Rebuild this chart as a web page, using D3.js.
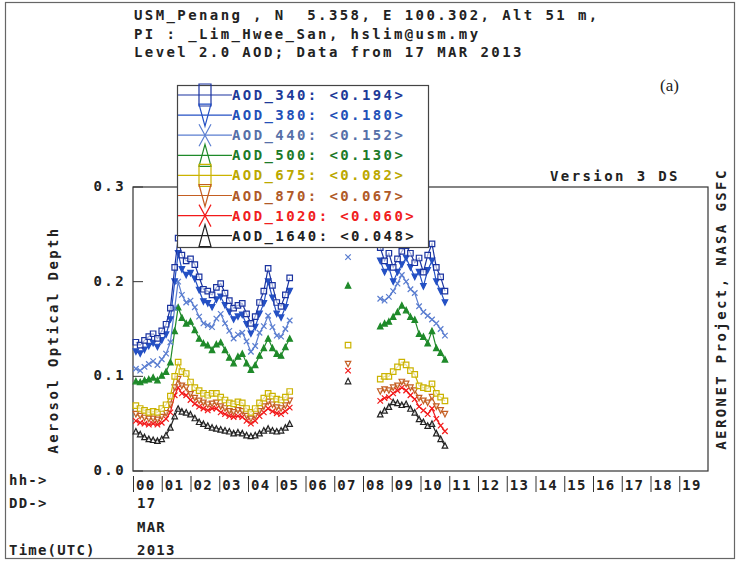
<!DOCTYPE html>
<html>
<head>
<meta charset="utf-8">
<script src="https://cdn.jsdelivr.net/npm/d3@7"></script>
<style>
  body { margin: 0; background: #fff; }
  svg { display: block; }
  text { font-family: 'DejaVu Sans Mono', monospace; font-weight: bold; font-size: 14px; letter-spacing: 2.4px; fill: #222; }
</style>
</head>
<body>
<div class="svg-container"></div>
<script>
// time of each measurement, hours UTC on 17 MAR 2013
const hours = [
  0.10, 0.25, 0.40, 0.55, 0.70, 0.85, 1.00, 1.15, 1.30, 1.45, 1.57, 1.70, 1.85, 2.00, 2.15, 2.30, 2.45, 2.60, 2.75,
  2.90, 3.05, 3.20, 3.35, 3.50, 3.65, 3.80, 3.95, 4.10, 4.25, 4.40, 4.55, 4.70, 4.85, 5.00, 5.15, 5.30, 5.45,
  7.48,
  8.60, 8.75, 8.90, 9.05, 9.20, 9.35, 9.50, 9.65, 9.80, 9.95, 10.10, 10.25, 10.40, 10.55, 10.70, 10.85
];

const aod340 = [
  0.136, 0.133, 0.138, 0.142, 0.145, 0.140, 0.148, 0.155, 0.172, 0.215, 0.246, 0.228, 0.222, 0.224, 0.218, 0.205, 0.192, 0.190, 0.186,
  0.194, 0.198, 0.188, 0.180, 0.172, 0.175, 0.177, 0.166, 0.156, 0.163, 0.178, 0.190, 0.214, 0.196, 0.178, 0.174, 0.186, 0.204,
  0.262,
  0.236, 0.222, 0.230, 0.215, 0.224, 0.232, 0.238, 0.230, 0.220, 0.225, 0.210, 0.228, 0.240, 0.215, 0.205, 0.190
];
const aod380 = [
  0.126, 0.124, 0.128, 0.132, 0.135, 0.131, 0.138, 0.144, 0.160, 0.200, 0.230, 0.213, 0.207, 0.209, 0.203, 0.191, 0.179, 0.177, 0.173,
  0.181, 0.184, 0.175, 0.168, 0.160, 0.163, 0.165, 0.155, 0.145, 0.152, 0.166, 0.177, 0.200, 0.183, 0.166, 0.162, 0.173, 0.190,
  0.250,
  0.222, 0.210, 0.215, 0.200, 0.210, 0.218, 0.225, 0.215, 0.205, 0.210, 0.195, 0.212, 0.222, 0.200, 0.190, 0.178
];
const aod440 = [
  0.108, 0.106, 0.110, 0.113, 0.116, 0.112, 0.118, 0.124, 0.136, 0.172, 0.200, 0.186, 0.178, 0.180, 0.173, 0.163, 0.156, 0.154, 0.152,
  0.161, 0.166, 0.156, 0.148, 0.140, 0.144, 0.146, 0.137, 0.126, 0.132, 0.146, 0.153, 0.164, 0.152, 0.143, 0.142, 0.150, 0.159,
  0.226,
  0.182, 0.180, 0.184, 0.190, 0.198, 0.207, 0.200, 0.192, 0.188, 0.174, 0.168, 0.164, 0.160, 0.156, 0.150, 0.143
];
const aod500 = [
  0.095, 0.094, 0.096, 0.097, 0.099, 0.096, 0.101, 0.105, 0.115, 0.148, 0.173, 0.162, 0.156, 0.158, 0.149, 0.140, 0.135, 0.133, 0.128,
  0.134, 0.136, 0.128, 0.120, 0.114, 0.121, 0.124, 0.114, 0.107, 0.112, 0.122, 0.130, 0.140, 0.130, 0.124, 0.122, 0.131, 0.140,
  0.196,
  0.153, 0.156, 0.158, 0.163, 0.168, 0.175, 0.170, 0.163, 0.160, 0.145, 0.142, 0.135, 0.148, 0.130, 0.125, 0.118
];
const aod675 = [
  0.069, 0.066, 0.064, 0.062, 0.063, 0.062, 0.066, 0.070, 0.079, 0.100, 0.115, 0.105, 0.103, 0.094, 0.088, 0.085, 0.082, 0.080, 0.082,
  0.082, 0.078, 0.075, 0.072, 0.071, 0.073, 0.072, 0.066, 0.062, 0.066, 0.072, 0.077, 0.082, 0.079, 0.076, 0.075, 0.078, 0.084,
  0.133,
  0.097, 0.100, 0.100, 0.105, 0.110, 0.115, 0.112, 0.106, 0.102, 0.090, 0.088, 0.087, 0.092, 0.082, 0.078, 0.074
];
const aod870 = [
  0.060, 0.058, 0.056, 0.055, 0.055, 0.054, 0.057, 0.061, 0.070, 0.088, 0.097, 0.090, 0.088, 0.081, 0.077, 0.074, 0.072, 0.070, 0.071,
  0.072, 0.068, 0.066, 0.063, 0.062, 0.064, 0.063, 0.058, 0.055, 0.058, 0.063, 0.068, 0.073, 0.070, 0.067, 0.066, 0.069, 0.074,
  0.113,
  0.084, 0.086, 0.085, 0.088, 0.090, 0.094, 0.092, 0.088, 0.085, 0.077, 0.074, 0.072, 0.078, 0.068, 0.064, 0.060
];
const aod1020 = [
  0.053, 0.051, 0.050, 0.049, 0.050, 0.049, 0.051, 0.055, 0.062, 0.080, 0.088, 0.082, 0.080, 0.075, 0.071, 0.068, 0.066, 0.064, 0.066,
  0.066, 0.062, 0.060, 0.058, 0.057, 0.058, 0.057, 0.053, 0.050, 0.053, 0.058, 0.062, 0.066, 0.063, 0.061, 0.060, 0.063, 0.067,
  0.106,
  0.074, 0.077, 0.078, 0.082, 0.085, 0.088, 0.085, 0.080, 0.076, 0.068, 0.064, 0.060, 0.066, 0.055, 0.048, 0.042
];
const aod1640 = [
  0.042, 0.039, 0.036, 0.034, 0.033, 0.032, 0.034, 0.038, 0.046, 0.058, 0.066, 0.063, 0.062, 0.060, 0.056, 0.052, 0.050, 0.048, 0.046,
  0.045, 0.044, 0.043, 0.042, 0.040, 0.041, 0.040, 0.038, 0.037, 0.038, 0.040, 0.043, 0.045, 0.043, 0.042, 0.043, 0.046, 0.050,
  0.095,
  0.060, 0.064, 0.068, 0.073, 0.072, 0.070, 0.071, 0.066, 0.062, 0.055, 0.052, 0.048, 0.050, 0.040, 0.034, 0.027
];

const seriesNames = ['AOD_340', 'AOD_380', 'AOD_440', 'AOD_500', 'AOD_675', 'AOD_870', 'AOD_1020', 'AOD_1640'];
const seriesMeans = ['0.194', '0.180', '0.152', '0.130', '0.082', '0.067', '0.060', '0.048'];
const hourLabels = ['00', '01', '02', '03', '04', '05', '06', '07', '08', '09',
                    '10', '11', '12', '13', '14', '15', '16', '17', '18', '19'];
const yTickValues = [0.0, 0.1, 0.2, 0.3];
const headerLines = [
  'USM_Penang , N  5.358, E 100.302, Alt 51 m,',
  'PI : _Lim_Hwee_San, hslim@usm.my',
  'Level 2.0 AOD; Data from 17 MAR 2013'
];

const allValues = [aod340, aod380, aod440, aod500, aod675, aod870, aod1020, aod1640];

// styling per series: colour, marker shape, filled or not
const styles = [
  { color: '#1a33a0', text: '#1d3a98', shape: 'square', fill: false },
  { color: '#2450c4', text: '#2350b8', shape: 'down', fill: true },
  { color: '#5b7ed0', text: '#5670a8', shape: 'cross', fill: false },
  { color: '#1f8a2a', text: '#1d7a28', shape: 'up', fill: true },
  { color: '#cbb300', text: '#bba800', shape: 'square', fill: false },
  { color: '#c45e22', text: '#b05a28', shape: 'down', fill: false },
  { color: '#f21a1a', text: '#f02020', shape: 'cross', fill: false },
  { color: '#222222', text: '#222222', shape: 'up', fill: false }
];

const width = 738;
const height = 561;
const plot = { left: 133, right: 708, top: 187, bottom: 471 };

const svg = d3.select('.svg-container')
  .append('svg')
  .attr('width', width)
  .attr('height', height);

svg.append('rect')
  .attr('width', width)
  .attr('height', height)
  .style('fill', '#fff');

// outer frame of the figure
svg.append('rect')
  .attr('x', 5.5)
  .attr('y', 2.5)
  .attr('width', 729)
  .attr('height', 556)
  .style('fill', 'none')
  .style('stroke', '#666')
  .style('stroke-width', 1.2);

const x = d3.scaleLinear().domain([0, 20]).range([plot.left, plot.right]);
const y = d3.scaleLinear().domain([0, 0.3]).range([plot.bottom, plot.top]);

// marker path generator, (w, h) is the box size
function markerPath(shape, w, h) {
  const a = w / 2, b = h / 2;
  if (shape === 'square') return `M${-a},${-b}H${a}V${b}H${-a}Z`;
  if (shape === 'up') return `M0,${-b}L${a},${b}L${-a},${b}Z`;
  if (shape === 'down') return `M0,${b}L${a},${-b}L${-a},${-b}Z`;
  return `M${-a},${-b}L${a},${b}M${-a},${b}L${a},${-b}`;
}

// header text
svg.selectAll('.header')
  .data(headerLines)
  .enter()
  .append('text')
  .attr('class', 'header')
  .attr('x', 134)
  .attr('y', (d, i) => 20 + i * 18.7)
  .style('white-space', 'pre')
  .text(d => d);

svg.append('text')
  .attr('x', 660)
  .attr('y', 91)
  .style('font-family', "'Liberation Serif', serif")
  .style('font-weight', 'normal')
  .style('font-size', '17px')
  .style('letter-spacing', '0px')
  .text('(a)');

svg.append('text')
  .attr('x', 550)
  .attr('y', 181)
  .text('Version 3 DS');

// plot frame
svg.append('rect')
  .attr('x', plot.left)
  .attr('y', plot.top)
  .attr('width', plot.right - plot.left)
  .attr('height', plot.bottom - plot.top)
  .style('fill', 'none')
  .style('stroke', '#333')
  .style('stroke-width', 1.2);

// y ticks (inward) and labels
svg.selectAll('.ytick')
  .data(yTickValues)
  .enter()
  .append('line')
  .attr('x1', plot.left)
  .attr('x2', plot.left + 10)
  .attr('y1', d => y(d))
  .attr('y2', d => y(d))
  .style('stroke', '#333');

svg.selectAll('.ylabel')
  .data(yTickValues)
  .enter()
  .append('text')
  .attr('x', 126)
  .attr('y', d => y(d) + 4)
  .attr('text-anchor', 'end')
  .text(d => d3.format('.1f')(d));

// hour ticks and labels
svg.selectAll('.xtick')
  .data(hourLabels)
  .enter()
  .append('line')
  .attr('x1', (d, i) => x(i) + 0.5)
  .attr('x2', (d, i) => x(i) + 0.5)
  .attr('y1', 476)
  .attr('y2', 492)
  .style('stroke', '#333');

svg.selectAll('.xlabel')
  .data(hourLabels)
  .enter()
  .append('text')
  .attr('x', (d, i) => x(i) + 3)
  .attr('y', 490)
  .style('letter-spacing', '1.2px')
  .text(d => d);

// left-hand axis row labels
const bottomLabels = [
  { t: 'hh->', x: 9, y: 485 },
  { t: 'DD->', x: 9, y: 508 },
  { t: '17', x: 137, y: 508 },
  { t: 'MAR', x: 137, y: 532 },
  { t: 'Time(UTC)', x: 9, y: 555 },
  { t: '2013', x: 137, y: 555 }
];
svg.selectAll('.blabel')
  .data(bottomLabels)
  .enter()
  .append('text')
  .attr('x', d => d.x)
  .attr('y', d => d.y)
  .style('letter-spacing', '1.2px')
  .text(d => d.t);

svg.append('text')
  .attr('transform', 'translate(58,340) rotate(-90)')
  .attr('text-anchor', 'middle')
  .text('Aerosol Optical Depth');

svg.append('text')
  .attr('transform', 'translate(726,309) rotate(-90)')
  .attr('text-anchor', 'middle')
  .text('AERONET Project, NASA GSFC');

// split points into continuous runs (gap > 0.5 h breaks the line)
function segments(values) {
  const segs = [];
  let cur = [];
  hours.forEach((h, i) => {
    if (cur.length && h - cur[cur.length - 1][0] > 0.5) {
      segs.push(cur);
      cur = [];
    }
    cur.push([h, values[i]]);
  });
  segs.push(cur);
  return segs;
}

const line = d3.line().x(d => x(d[0])).y(d => y(d[1]));

// draw from long wavelength to short so blue sits on top
const order = d3.range(allValues.length).reverse();
order.forEach(k => {
  const st = styles[k];
  const g = svg.append('g');
  segments(allValues[k]).forEach(seg => {
    if (seg.length > 1) {
      g.append('path')
        .attr('d', line(seg))
        .style('fill', 'none')
        .style('stroke', st.color)
        .style('stroke-width', 1.2);
    }
  });
  g.selectAll('path.mk')
    .data(hours.map((h, i) => [h, allValues[k][i]]))
    .enter()
    .append('path')
    .attr('class', 'mk')
    .attr('transform', d => `translate(${x(d[0])},${y(d[1])})`)
    .attr('d', markerPath(st.shape, 5.5, 5.5))
    .style('fill', st.fill ? st.color : (st.shape === 'cross' ? 'none' : '#fff'))
    .style('fill-opacity', st.fill ? 1 : 0.6)
    .style('stroke', st.color)
    .style('stroke-width', 1.2);
});

// legend
const legend = svg.append('g');
legend.append('rect')
  .attr('x', 177.5)
  .attr('y', 85.5)
  .attr('width', 251)
  .attr('height', 162)
  .style('fill', '#fff')
  .style('stroke', '#444')
  .style('stroke-width', 1.2);

seriesNames.forEach((name, i) => {
  const st = styles[i];
  const ry = 95 + i * 20.1;
  legend.append('line')
    .attr('x1', 178)
    .attr('x2', 232)
    .attr('y1', ry)
    .attr('y2', ry)
    .style('stroke', st.color)
    .style('stroke-width', 1.2);
  legend.append('path')
    .attr('transform', `translate(205,${ry})`)
    .attr('d', markerPath(st.shape, 12, 22))
    .style('fill', 'none')
    .style('stroke', st.color)
    .style('stroke-width', 1.2);
  legend.append('text')
    .attr('x', 232)
    .attr('y', ry + 5)
    .style('fill', st.text)
    .style('white-space', 'pre')
    .text(`${name}: <${seriesMeans[i]}>`);
});
</script>
</body>
</html>
